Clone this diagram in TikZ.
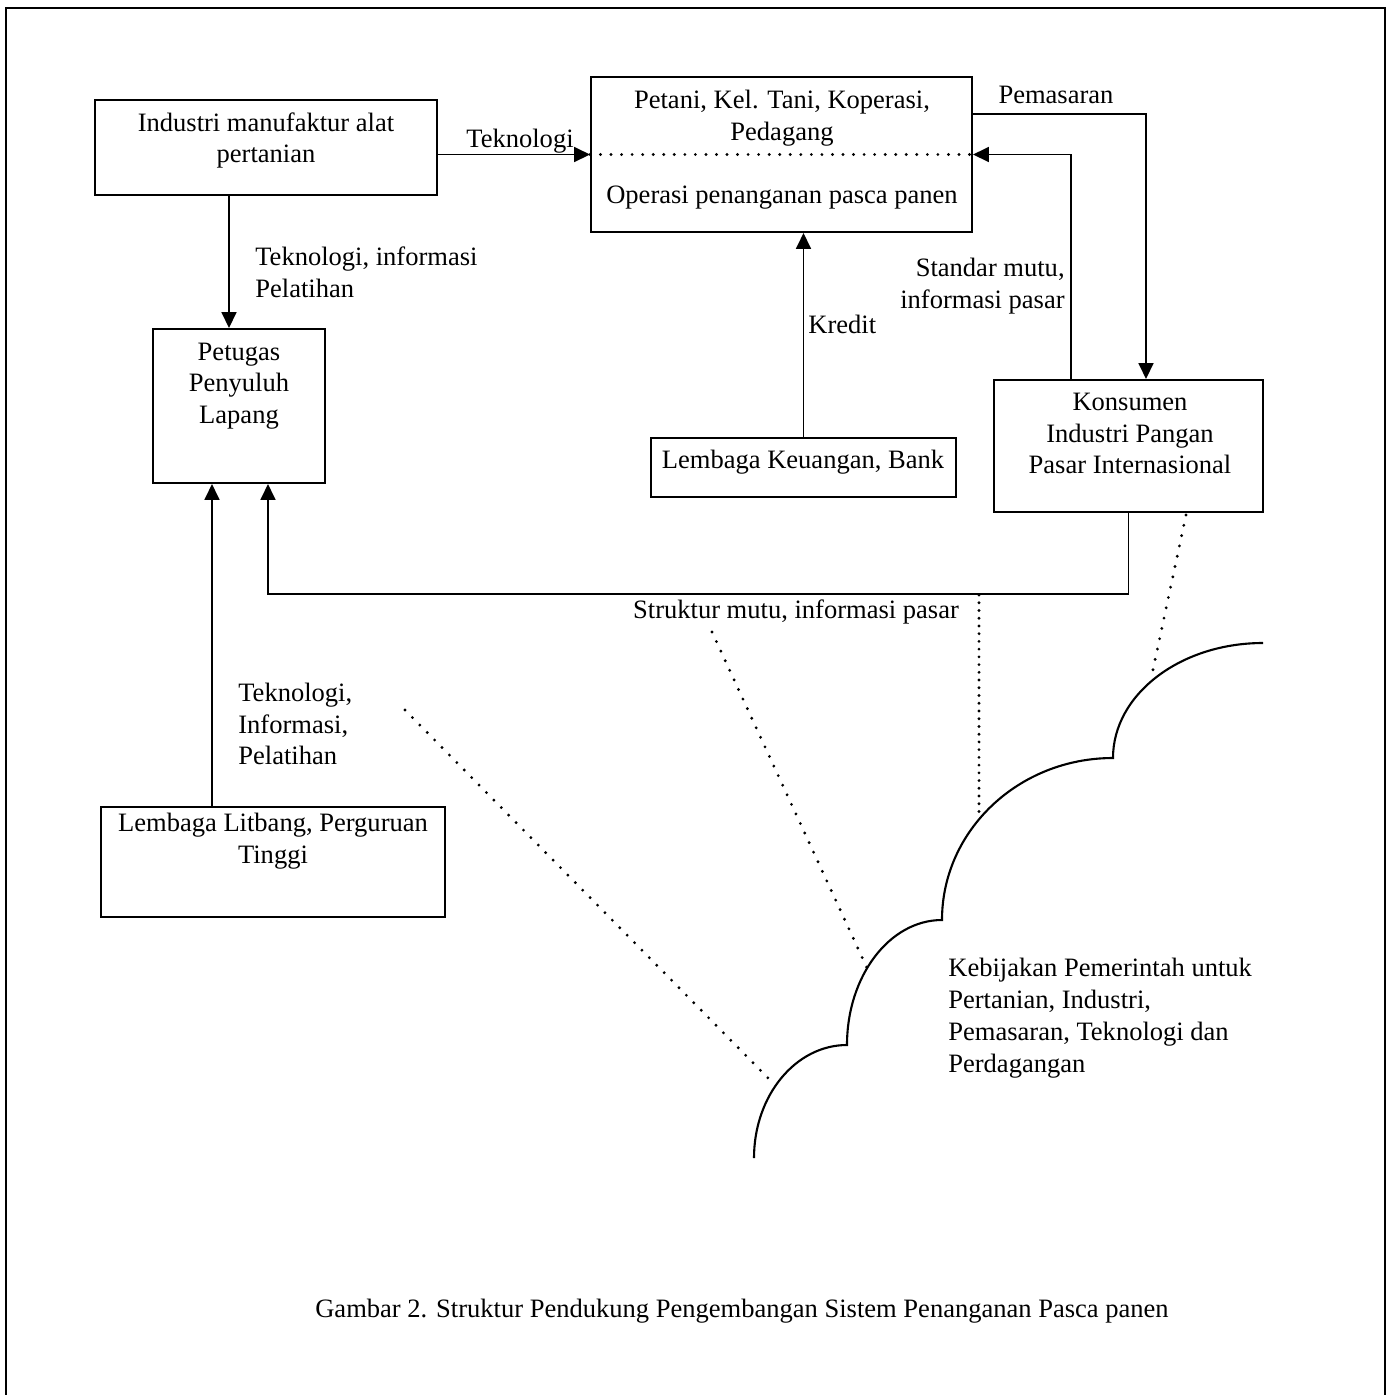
\documentclass[tikz,border=0pt]{standalone}
\usepackage{fontspec}
\setmainfont{Liberation Serif}
\usetikzlibrary{arrows.meta,calc}

\begin{document}
\begin{tikzpicture}[line join=miter,
    font=\fontsize{15.1}{18.1}\selectfont,
    box/.style={draw, line width=1.2pt, inner sep=0pt},
    txt/.style={align=center, inner sep=0pt},
    arr/.style={line width=1.1pt, -{Triangle[length=9pt,width=8.5pt]}},
    dotline/.style={line width=1.8pt, line cap=round, dash pattern=on 0pt off 6pt}]
    \useasboundingbox (0,0) rectangle (27.78,-27.90);

    % frame (open at the bottom)
    \draw[line width=1.4pt] (0.12,-27.90) -- (0.12,-0.16) -- (27.70,-0.16) -- (27.70,-27.90);

    % boxes
    \node[box, minimum width=6.84cm, minimum height=1.90cm] (industri) at (5.32,-2.95) {};
    \node[box, minimum width=7.62cm, minimum height=3.10cm] (petani) at (15.63,-3.09) {};
    \node[box, minimum width=3.44cm, minimum height=3.08cm] (ppl) at (4.78,-8.12) {};
    \node[box, minimum width=6.10cm, minimum height=1.18cm] (bank) at (16.07,-9.35) {};
    \node[box, minimum width=5.38cm, minimum height=2.64cm] (kons) at (22.57,-8.92) {};
    \node[box, minimum width=6.88cm, minimum height=2.20cm] (litbang) at (5.46,-17.24) {};

    % box texts
    \node[txt] (industri-t) at (5.32,-2.81) {Industri manufaktur alat\\pertanian};
    \node[txt] (petani-t) at (15.64,-2.37) {Petani, Kel. Tani, Koperasi,\\Pedagang};
    \node[txt, anchor=base] (operasi-t) at (15.64,-4.06) {Operasi penanganan pasca panen};
    \node[txt] (ppl-t) at (4.78,-7.72) {Petugas\\Penyuluh\\Lapang};
    \node[txt, anchor=base] (bank-t) at (16.06,-9.36) {Lembaga Keuangan, Bank};
    \node[txt] (kons-t) at (22.60,-8.67) {Konsumen\\Industri Pangan\\Pasar Internasional};
    \node[txt] (litbang-t) at (5.46,-16.83) {Lembaga Litbang, Perguruan\\Tinggi};

    % divider inside the farmer box
    \draw[dotline] (petani.west) -- (petani.east);

    % connectors
    \draw[arr] (industri.east |- petani.west) -- (petani.west);
    \coordinate (ind-out) at ($(industri.south)+(-0.74,0)$);
    \draw[arr] (ind-out) -- (ind-out |- ppl.north);
    \coordinate (lit-in) at ($(ppl.south)+(-0.54,0)$);
    \draw[arr] (lit-in |- litbang.north) -- (lit-in);
    \coordinate (pasar-in) at ($(ppl.south)+(0.58,0)$);
    \draw[arr] (kons.south) -- ++(0,-1.62) -| (pasar-in);
    \draw[arr] (bank.north) -- (bank.north |- petani.south);
    \coordinate (jual-out) at ($(petani.north east)+(0,-0.76)$);
    \coordinate (jual-in) at ($(kons.north)+(0.35,0)$);
    \draw[arr] (jual-out) -| (jual-in);
    \coordinate (mutu-out) at ($(kons.north)+(-1.15,0)$);
    \draw[arr] (mutu-out) |- (petani.east);

    % connector labels
    \node[txt, anchor=base] (tek1) at (10.40,-2.94) {Teknologi};
    \node[txt, align=left, anchor=west] (tek2) at (5.10,-5.44) {Teknologi, informasi\\Pelatihan};
    \node[txt, anchor=base west] (kredit) at (16.16,-6.66) {Kredit};
    \node[txt, align=right, anchor=east] (standar) at (21.30,-5.72) {Standar mutu,\\informasi pasar};
    \node[txt, anchor=base] (pemasaran) at (21.12,-2.06) {Pemasaran};
    \node[txt, anchor=base] (struktur) at (15.92,-12.36) {Struktur mutu, informasi pasar};
    \node[txt, align=left, anchor=west] (tek3) at (4.76,-14.48) {Teknologi,\\Informasi,\\Pelatihan};

    % policy cloud
    \draw[line width=1.2pt] (15.08,-23.16)
      arc[start angle=180, end angle=90, x radius=1.86, y radius=2.26]
      arc[start angle=180, end angle=90, x radius=1.90, y radius=2.50]
      arc[start angle=180, end angle=90, x radius=3.42, y radius=3.24]
      arc[start angle=180, end angle=90, x radius=3.00, y radius=2.30];
    \node[txt, align=left, anchor=west] (kebijakan) at (18.96,-20.36)
      {Kebijakan Pemerintah untuk\\Pertanian, Industri,\\Pemasaran, Teknologi dan\\Perdagangan};

    % dotted ties to the cloud
    \coordinate (c1) at (15.44,-21.64);
    \coordinate (c2) at (17.34,-19.36);
    \coordinate (c3) at (19.58,-16.26);
    \coordinate (c4) at (23.02,-13.58);
    \draw[dotline] (8.10,-14.20) -- (c1);
    \draw[dotline] (14.24,-12.64) -- (c2);
    \draw[dotline, dash pattern=on 0pt off 4.4pt] (19.58,-11.90) -- (c3);
    \draw[dotline] (23.72,-10.30) -- (c4);

    % caption
    \node[txt, anchor=base] (caption) at (14.84,-26.34)
      {Gambar 2. Struktur Pendukung Pengembangan Sistem Penanganan Pasca panen};
\end{tikzpicture}
\end{document}
